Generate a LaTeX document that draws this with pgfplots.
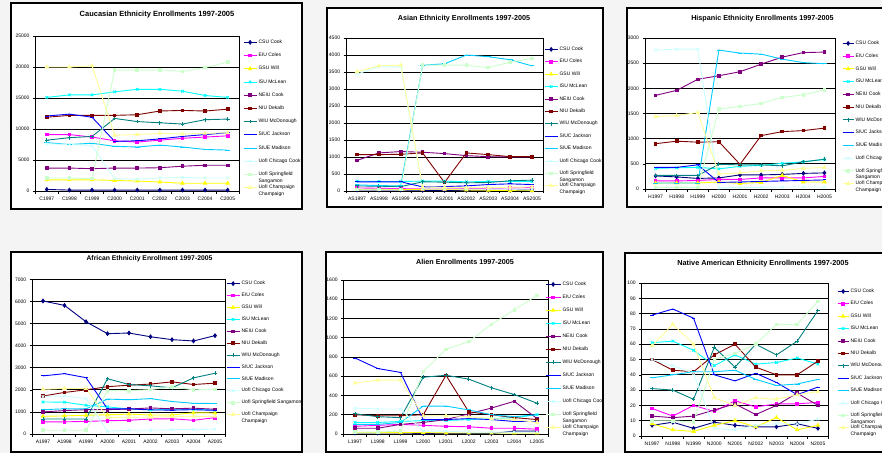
\documentclass[border=0pt]{standalone}
\usepackage{pgfplots}
\pgfplotsset{compat=1.18}
\usepackage{pgfplotstable}
\usepackage{fontspec}
\setmainfont{Liberation Sans}
\definecolor{c1}{RGB}{0,0,128}
\definecolor{c2}{RGB}{255,0,255}
\definecolor{c3}{RGB}{255,255,0}
\definecolor{c4}{RGB}{0,255,255}
\definecolor{c5}{RGB}{128,0,128}
\definecolor{c6}{RGB}{128,0,0}
\definecolor{c7}{RGB}{0,128,128}
\definecolor{c8}{RGB}{0,0,255}
\definecolor{c9}{RGB}{0,204,255}
\definecolor{c10}{RGB}{204,255,255}
\definecolor{c11}{RGB}{204,255,204}
\definecolor{c12}{RGB}{255,255,153}
\definecolor{bg}{RGB}{244,244,244}

\newcommand{\LE}[1]{\raisebox{0pt}[3.8pt][1.2pt]{#1}}
\newcommand{\TW}[2]{\LE{\rlap{\raisebox{-6.5pt}{#2}}#1}}

\pgfplotsset{
  panel/.style={
    anchor=south west, scale only axis,
    xmin=-0.5, xmax=8.5, ymin=0,
    xtick={0,...,8}, minor xtick={-0.5,0.5,...,8.5},
    tick pos=left, tick align=outside,
    major tick length=2.5pt, minor tick length=2.5pt,
    major x tick style={draw=none},
    minor x tick style={black, line width=0.6pt},
    ytick style={black, line width=0.6pt},
    ymajorgrids, major grid style={black, line width=0.7pt},
    axis line style={black, line width=0.7pt},
    tick label style={font=\fontsize{5}{6}\selectfont},
    scaled y ticks=false,
    /pgf/number format/fixed,
    /pgf/number format/1000 sep={},
    /pgf/number format/assume math mode=true,
    every axis plot/.append style={line width=0.9pt},
    cycle list={
      {c1, mark=diamond*, mark size=1.8pt},
      {c2, mark=square*, mark size=1.3pt},
      {c3, mark=triangle*, mark size=1.8pt},
      {c4, mark=x, mark size=1.8pt},
      {c5, mark=square*, mark size=1.3pt},
      {c6, mark=square*, mark size=1.3pt},
      {c7, mark=+, mark size=1.9pt},
      {c8, mark=-, mark size=1.9pt},
      {c9, mark=-, mark size=2.4pt},
      {c10, mark=x, mark size=1.8pt},
      {c11, mark=square*, mark size=1.3pt},
      {c12, mark=triangle*, mark size=1.8pt}},
    legend cell align=left,
    legend style={draw=none, fill=none, font=\fontsize{5}{6.5}\selectfont,
      inner xsep=3pt, inner ysep=2pt, nodes={inner sep=0.5pt},
      column sep=1pt, at={(1,1)}, anchor=north west},
  },
  limg/.style={legend image code/.code={\draw[mark repeat=2,mark phase=2] plot coordinates {(0pt,0pt) (#1/2,0pt) (#1,0pt)};}},
}

\pgfplotstableread{
x s1 s2 s3 s4 s5 s6 s7 s8 s9 s10 s11 s12
0 250 9100 1800 15100 3700 11900 8200 12100 7800 7600 2100 20000
1 150 9100 1800 15500 3700 12200 8600 12400 7500 7500 2100 20000
2 150 8700 1800 15500 3600 12200 8800 11900 7700 7300 2000 20200
3 150 8100 1700 16000 3700 12200 11700 8000 7200 2000 19500 9000
4 150 7900 1600 16400 3700 12300 11200 8100 7100 1900 19500 9100
5 150 8200 1450 16400 3750 12900 11000 8400 7400 2100 19500 9300
6 150 8500 1250 16100 4000 13000 10800 8800 7100 2200 19300 9200
7 150 8700 1250 15400 4150 12900 11500 9100 6700 2100 19900 9300
8 150 8900 1250 15100 4150 13200 11600 9400 6600 2100 20800 9400
}\cauc

\pgfplotstableread{
x s1 s2 s3 s4 s5 s6 s7 s8 s9 s10 s11 s12
0 30 90 50 290 900 1070 150 270 180 3440 50 3510
1 30 80 50 280 1120 1070 140 270 160 3650 50 3680
2 30 70 40 280 1160 1080 130 270 150 3650 50 3700
3 20 60 50 290 1140 1120 270 120 3700 60 3700 120
4 20 60 50 290 1100 250 260 130 3740 60 3700 110
5 20 70 30 270 1040 1120 240 150 4000 60 3700 100
6 20 80 20 280 1010 1070 250 190 3950 60 3630 100
7 20 90 10 280 1000 1010 300 210 3860 60 3790 110
8 30 100 5 280 1000 1010 320 190 3680 60 3900 120
}\asian

\pgfplotstableread{
x s1 s2 s3 s4 s5 s6 s7 s8 s9 s10 s11 s12
0 260 160 120 410 1860 900 270 430 120 2760 30 1440
1 240 160 120 420 1960 950 270 430 120 2780 30 1460
2 210 170 120 430 2180 930 270 480 120 2780 30 1520
3 220 190 140 400 2250 940 490 130 2760 20 1590 300
4 280 190 110 450 2330 490 480 140 2700 30 1640 320
5 280 220 130 470 2480 1060 480 150 2680 30 1700 360
6 290 220 270 510 2620 1140 460 160 2580 40 1820 370
7 310 220 140 540 2710 1160 540 170 2510 40 1870 410
8 320 250 140 590 2720 1210 590 180 2490 40 1970 430
}\hisp

\pgfplotstableread{
x s1 s2 s3 s4 s5 s6 s7 s8 s9 s10 s11 s12
0 6020 550 800 1450 1000 1720 680 2630 1100 1700 170 2020
1 5820 550 820 1440 1060 1880 680 2730 1140 1720 170 2060
2 5080 570 850 1300 1100 2000 680 2550 1140 1600 170 2060
3 4540 600 870 1230 1100 2140 2500 1140 1580 130 1960 750
4 4570 620 900 1130 1130 2210 2240 1140 1550 170 1960 760
5 4400 680 860 1090 1180 2260 2180 1090 1600 170 2010 760
6 4270 690 860 1120 1140 2360 2090 1080 1470 200 2130 780
7 4210 620 960 1120 1170 2240 2540 1100 1390 200 2000 800
8 4450 740 950 1080 1120 2300 2750 1070 1380 220 2020 800
}\afric

\pgfplotstableread{
x s1 s2 s3 s4 s5 s6 s7 s8 s9 s10 s11 s12
0 10 80 15 120 60 200 210 790 100 270 20 530
1 10 90 15 120 60 190 180 680 100 260 20 560
2 10 100 15 130 100 190 170 640 120 260 30 560
3 5 90 15 140 120 200 590 150 290 30 650 190
4 5 80 10 140 150 610 610 150 290 30 880 190
5 5 75 10 150 210 230 570 160 250 20 960 180
6 5 60 10 160 270 200 480 150 200 20 1140 160
7 30 60 10 170 340 170 410 130 180 20 1290 150
8 30 50 10 200 160 150 320 130 200 20 1440 120
}\alien

\pgfplotstableread{
x s1 s2 s3 s4 s5 s6 s7 s8 s9 s10 s11 s12
0 7 18 8 61 13 50 31 79 38 50 10 59
1 9 13 4 62 12 43 30 83 40 46 10 73
2 5 20 3 56 13 42 24 77 42 41 9 60
3 9 16 7 46 17 53 58 40 42 5 50 25
4 7 23 10 53 21 60 45 36 43 4 54 20
5 6 19 6 47 14 45 60 41 37 7 60 25
6 6 21 12 48 20 40 53 35 33 8 73 24
7 8 21 4 51 28 40 62 27 34 8 73 27
8 5 22 7 47 20 49 82 32 37 11 88 29
}\native

\begin{document}
\begin{tikzpicture}[x=1pt,y=1pt]
\clip (0,0) rectangle (882,453);
\fill[bg] (0,0) rectangle (882,453);

% ---------- Panel 1: Caucasian
\begin{scope}
\clip (11,244) rectangle (302,450);
\fill[white] (11,244) rectangle (302,450);
\node[font=\bfseries\fontsize{7.5}{9}\selectfont] at (157,438) {Caucasian Ethnicity Enrollments 1997-2005};
\begin{axis}[panel, at={(35.5pt,262pt)}, width=203.5pt, height=155pt,
  ymax=25000, ytick={0,5000,...,25000},
  xticklabels={C1997,C1998,C1999,C2000,C2001,C2002,C2003,C2004,C2005},
  legend style={xshift=1pt, yshift=-1pt, row sep=6.9pt}, limg=13pt]
\pgfplotsinvokeforeach{1,...,12}{\addplot table[x=x,y=s#1]{\cauc};}
\legend{\LE{CSU Cook},\LE{EIU Coles},\LE{GSU Will},\LE{ISU McLean},\LE{NEIU Cook},\LE{NIU Dekalb},\LE{WIU McDonough},\LE{SIUC Jackson},\LE{SIUE Madison},\LE{UofI Chicago Cook},\TW{UofI Springfield}{Sangamon},\TW{UofI Champaign}{Champaign}}
\end{axis}
\end{scope}
\draw[line width=1.2pt] (11,244) rectangle (302,450);

% ---------- Panel 2: Asian
\begin{scope}
\clip (327,246) rectangle (603,445);
\fill[white] (327,246) rectangle (603,445);
\node[font=\bfseries\fontsize{7.2}{9}\selectfont] at (464,434) {Asian Ethnicity Enrollments 1997-2005};
\begin{axis}[panel, at={(346.1pt,262pt)}, width=196.8pt, height=153pt,
  ymax=4500, ytick={0,500,...,4500},
  xticklabels={AS1997,AS1998,AS1999,AS2000,AS2001,AS2002,AS2003,AS2004,AS2005},
  legend style={xshift=-1.9pt, yshift=-6pt, row sep=6.1pt}, limg=13pt]
\pgfplotsinvokeforeach{1,...,12}{\addplot table[x=x,y=s#1]{\asian};}
\legend{\LE{CSU Cook},\LE{EIU Coles},\LE{GSU Will},\LE{ISU McLean},\LE{NEIU Cook},\LE{NIU Dekalb},\LE{WIU McDonough},\LE{SIUC Jackson},\LE{SIUE Madison},\LE{UofI Chicago Cook},\TW{UofI Springfield}{Sangamon},\TW{UofI Champaign}{Champaign}}
\end{axis}
\end{scope}
\draw[line width=1.2pt] (327,246) rectangle (603,445);

% ---------- Panel 3: Hispanic
\begin{scope}
\clip (627,246) rectangle (900,445);
\fill[white] (627,246) rectangle (900,445);
\node[font=\bfseries\fontsize{7.2}{9}\selectfont] at (762.5,434) {Hispanic Ethnicity Enrollments 1997-2005};
\begin{axis}[panel, at={(645pt,264pt)}, width=190pt, height=151pt,
  ymax=3000, ytick={0,500,...,3000},
  xticklabels={H1997,H1998,H1999,H2000,H2001,H2002,H2003,H2004,H2005},
  legend style={xshift=4pt, yshift=0pt, row sep=6.45pt}, limg=11pt]
\pgfplotsinvokeforeach{1,...,12}{\addplot table[x=x,y=s#1]{\hisp};}
\legend{\LE{CSU Cook},\LE{EIU Coles},\LE{GSU Will},\LE{ISU McLean},\LE{NEIU Cook},\LE{NIU Dekalb},\LE{WIU McDonough},\LE{SIUC Jackson},\LE{SIUE Madison},\LE{UofI Chicago Cook},\TW{UofI Springfield}{Sangamon},\TW{UofI Champaign}{Champaign}}
\end{axis}
\end{scope}
\draw[line width=1.2pt] (627,246) rectangle (900,445);

% ---------- Panel 4: African
\begin{scope}
\clip (11,1) rectangle (302,201);
\fill[white] (11,1) rectangle (302,201);
\node[font=\bfseries\fontsize{6.8}{8}\selectfont] at (149.5,194) {African Ethnicity Enrollment 1997-2005};
\begin{axis}[panel, at={(32.25pt,19pt)}, width=193.5pt, height=154.7pt,
  ymax=7000, ytick={0,1000,...,7000},
  xticklabels={A1997,A1998,A1999,A2000,A2001,A2002,A2003,A2004,A2005},
  legend style={xshift=-2.75pt, yshift=1pt, row sep=5.6pt}, limg=13pt]
\pgfplotsinvokeforeach{1,...,12}{\addplot table[x=x,y=s#1]{\afric};}
\legend{\LE{CSU Cook},\LE{EIU Coles},\LE{GSU Will},\LE{ISU McLean},\LE{NEIU Cook},\LE{NIU Dekalb},\LE{WIU McDonough},\LE{SIUC Jackson},\LE{SIUE Madison},\LE{UofI Chicago Cook},\LE{UofI Springfield Sangamon},\TW{UofI Champaign}{Champaign}}
\end{axis}
\end{scope}
\draw[line width=1.2pt] (11,1) rectangle (302,201);

% ---------- Panel 5: Alien
\begin{scope}
\clip (326,1) rectangle (603,201);
\fill[white] (326,1) rectangle (603,201);
\node[font=\bfseries\fontsize{7.2}{9}\selectfont] at (465,191) {Alien Enrollments 1997-2005};
\begin{axis}[panel, at={(343.6pt,19pt)}, width=204.8pt, height=154pt,
  ymax=1600, ytick={0,200,...,1600},
  xticklabels={L1997,L1998,L1999,L2000,L2001,L2002,L2003,L2004,L2005},
  legend style={xshift=-6.4pt, yshift=1pt, row sep=6.7pt}, limg=15pt]
\pgfplotsinvokeforeach{1,...,12}{\addplot table[x=x,y=s#1]{\alien};}
\legend{\LE{CSU Cook},\LE{EIU Coles},\LE{GSU Will},\LE{ISU McLean},\LE{NEIU Cook},\LE{NIU Dekalb},\LE{WIU McDonough},\LE{SIUC Jackson},\LE{SIUE Madison},\LE{UofI Chicago Cook},\TW{UofI Springfield}{Sangamon},\TW{UofI Champaign}{Champaign}}
\end{axis}
\end{scope}
\draw[line width=1.2pt] (326,1) rectangle (603,201);

% ---------- Panel 6: Native American
\begin{scope}
\clip (625,1) rectangle (900,200);
\fill[white] (625,1) rectangle (900,200);
\node[font=\bfseries\fontsize{7.3}{9}\selectfont] at (763,189) {Native American Ethnicity Enrollments 1997-2005};
\begin{axis}[panel, at={(641.7pt,17pt)}, width=186.6pt, height=153pt,
  ymax=100, ytick={0,10,...,100},
  xticklabels={N1997,N1998,N1999,N2000,N2001,N2002,N2003,N2004,N2005},
  legend style={xshift=5.7pt, yshift=-3pt, row sep=6.1pt}, limg=11pt]
\pgfplotsinvokeforeach{1,...,12}{\addplot table[x=x,y=s#1]{\native};}
\legend{\LE{CSU Cook},\LE{EIU Coles},\LE{GSU Will},\LE{ISU McLean},\LE{NEIU Cook},\LE{NIU Dekalb},\LE{WIU McDonough},\LE{SIUC Jackson},\LE{SIUE Madison},\LE{UofI Chicago Cook},\TW{UofI Springfield}{Sangamon},\TW{UofI Champaign}{Champaign}}
\end{axis}
\end{scope}
\draw[line width=1.2pt] (625,1) rectangle (900,200);
\end{tikzpicture}
\end{document}
